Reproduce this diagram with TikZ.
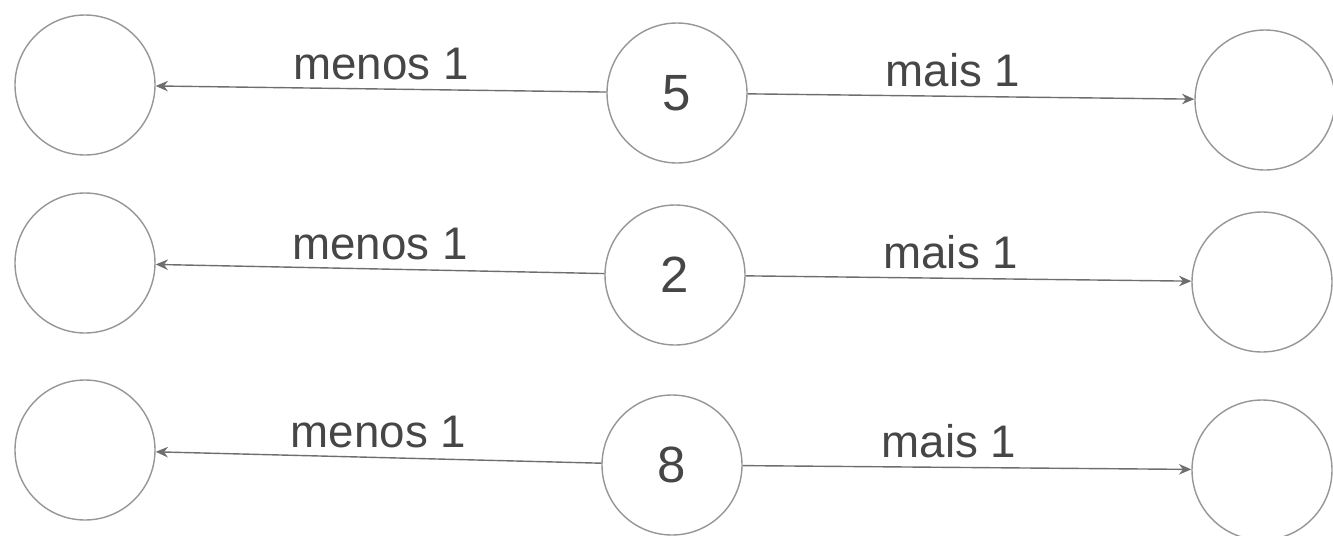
\documentclass[tikz,border=0pt]{standalone}
\usepackage{fontspec}
\setmainfont{Liberation Sans}
\usetikzlibrary{positioning,arrows.meta}
\definecolor{ringgray}{RGB}{150,150,150}
\definecolor{linegray}{RGB}{110,110,110}
\definecolor{textgray}{RGB}{70,70,70}

\begin{document}
\begin{tikzpicture}[
  every node/.style={text=textgray},
  ring/.style={circle, draw=ringgray, line width=0.8pt, minimum size=2.8cm,
               inner sep=0pt, font=\fontsize{29}{32}\selectfont},
  opline/.style={draw=linegray, line width=0.8pt, -{Stealth[length=7pt,width=6pt]}},
  oplabel/.style={midway, above=5pt, inner sep=0pt, font=\fontsize{26}{30}\selectfont}
]
  \useasboundingbox (0,0) rectangle (26.66,-10.7);
  % row with 5
  \node[ring] (l1) at (1.7,-1.7)    {};
  \node[ring] (m1) at (13.54,-1.86) {5};
  \node[ring] (r1) at (25.3,-2.0)   {};
  % row with 2
  \node[ring] (l2) at (1.7,-5.26)   {};
  \node[ring] (m2) at (13.5,-5.5)   {2};
  \node[ring] (r2) at (25.24,-5.64) {};
  % row with 8
  \node[ring] (l3) at (1.7,-9.0)    {};
  \node[ring] (m3) at (13.44,-9.3)  {8};
  \node[ring] (r3) at (25.24,-9.4)  {};

  \draw[opline] (m1) -- node[oplabel] {menos 1} (l1);
  \draw[opline] (m1) -- node[oplabel, pos=0.46] {mais 1} (r1);
  \draw[opline] (m2) -- node[oplabel] {menos 1} (l2);
  \draw[opline] (m2) -- node[oplabel, pos=0.46] {mais 1} (r2);
  \draw[opline] (m3) -- node[oplabel] {menos 1} (l3);
  \draw[opline] (m3) -- node[oplabel, pos=0.46] {mais 1} (r3);
\end{tikzpicture}
\end{document}
